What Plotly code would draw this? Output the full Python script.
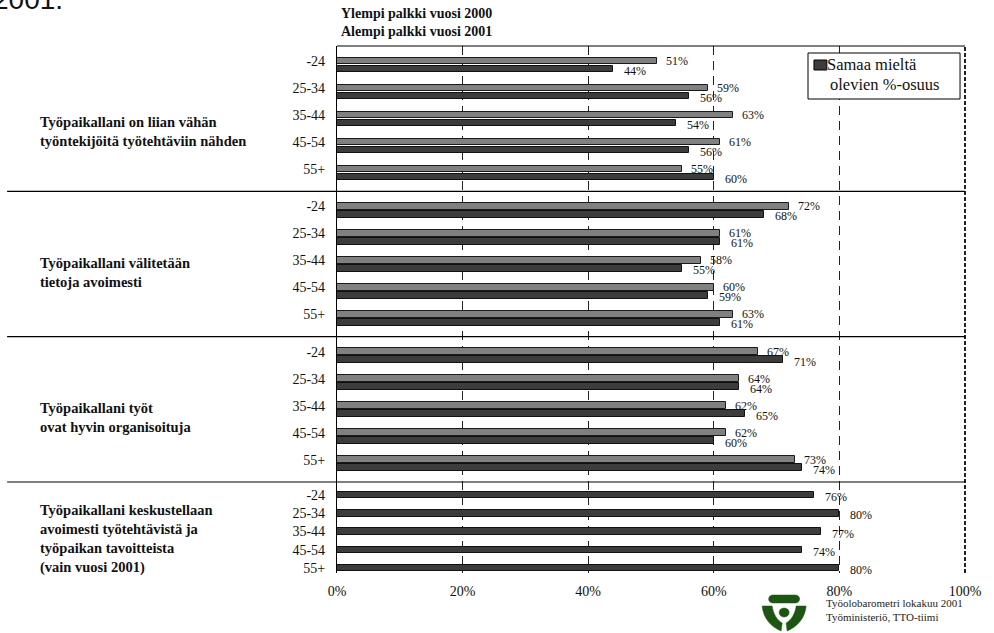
import plotly.graph_objects as go

# ---------------- data ----------------
age_groups = ["-24", "25-34", "35-44", "45-54", "55+"]
statements = [
    "Työpaikallani on liian vähän<br>työntekijöitä työtehtäviin nähden",
    "Työpaikallani välitetään<br>tietoja avoimesti",
    "Työpaikallani työt<br>ovat hyvin organisoituja",
    "Työpaikallani keskustellaan<br>avoimesti työtehtävistä ja<br>työpaikan tavoitteista<br>(vain vuosi 2001)",
]
values_2000 = [
    [51, 59, 63, 61, 55],
    [72, 61, 58, 60, 63],
    [67, 64, 62, 62, 73],
]
values_2001 = [
    [44, 56, 54, 56, 60],
    [68, 61, 55, 59, 61],
    [71, 64, 65, 60, 74],
    [76, 80, 77, 74, 80],
]
x_ticks = [0, 20, 40, 60, 80, 100]
x_tick_labels = ["0%", "20%", "40%", "60%", "80%", "100%"]
header_text = "Ylempi palkki vuosi 2000<br>Alempi palkki vuosi 2001"
legend_lines = ["Samaa mieltä", "olevien %-osuus"]
source_text = "Työolobarometri lokakuu 2001<br>Työministeriö, TTO-tiimi"
cut_title = "2001."

# ---------------- layout geometry ----------------
W, H = 994, 633
L, R, T, B = 337, 969, 46, 573
SERIF = "Liberation Serif"
C2000 = "#808080"
C2001 = "#3c3c3c"


def pxx(p):
    return (p - L) / (R - L)


def pyy(p):
    return (B - p) / (B - T)


sec_tops = [T, 191.3, 336.7, 482]
sec_bottoms = [191.3, 336.7, 482, B]

y2000, x2000, y2001, x2001 = [], [], [], []
tickvals, ticktext = [], []
for s in range(3):
    for i in range(5):
        c = sec_tops[s] + 19 + 27 * i
        y2000.append(c - 4)
        y2001.append(c + 4)
        x2000.append(values_2000[s][i])
        x2001.append(values_2001[s][i])
        tickvals.append(c - 4)
        ticktext.append(age_groups[i])
for i in range(5):
    c = sec_tops[3] + 13 + 18.25 * i
    y2001.append(c)
    x2001.append(values_2001[3][i])
    tickvals.append(c)
    ticktext.append(age_groups[i])

fig = go.Figure()
fig.add_trace(go.Bar(
    orientation="h", x=x2000, y=y2000, width=6.5,
    marker=dict(color=C2000, line=dict(color="#1a1a1a", width=1)),
    showlegend=False, hoverinfo="x",
))
fig.add_trace(go.Bar(
    orientation="h", x=x2001, y=y2001, width=6.5,
    marker=dict(color=C2001, line=dict(color="#111111", width=1)),
    showlegend=False, hoverinfo="x",
))

annotations = []
for xv, yv in zip(x2000, y2000):
    annotations.append(dict(x=xv, y=yv, xref="x", yref="y", text=f"{xv}%",
                            showarrow=False, xanchor="left", yanchor="middle",
                            xshift=7, yshift=0,
                            font=dict(family=SERIF, size=12, color="#111")))
for xv, yv in zip(x2001, y2001):
    annotations.append(dict(x=xv, y=yv, xref="x", yref="y", text=f"{xv}%",
                            showarrow=False, xanchor="left", yanchor="middle",
                            xshift=9, yshift=-2,
                            font=dict(family=SERIF, size=12, color="#111")))

# section titles
title_y = [131, 272, 417, 539]
for s, txt in enumerate(statements):
    annotations.append(dict(x=pxx(36), y=pyy(title_y[s]), xref="paper", yref="paper",
                            text=f"<b>{txt}</b>", showarrow=False, xanchor="left",
                            yanchor="middle", align="left",
                            font=dict(family=SERIF, size=14.5, color="#111")))

# header
annotations.append(dict(x=pxx(339), y=pyy(23), xref="paper", yref="paper",
                        text=f"<b>{header_text}</b>", showarrow=False,
                        xanchor="left", yanchor="middle", align="left",
                        font=dict(family=SERIF, size=14, color="#111")))
# legend text
annotations.append(dict(x=pxx(828), y=pyy(65), xref="paper", yref="paper",
                        text=legend_lines[0], showarrow=False, xanchor="left",
                        yanchor="middle", font=dict(family=SERIF, size=16.5, color="#111")))
annotations.append(dict(x=pxx(831), y=pyy(85), xref="paper", yref="paper",
                        text=legend_lines[1], showarrow=False, xanchor="left",
                        yanchor="middle", font=dict(family=SERIF, size=16.5, color="#111")))
# source
annotations.append(dict(x=pxx(827), y=pyy(610), xref="paper", yref="paper",
                        text=source_text, showarrow=False, xanchor="left",
                        yanchor="middle", align="left",
                        font=dict(family=SERIF, size=11, color="#222")))
# cut-off title at top-left
annotations.append(dict(x=pxx(63), y=pyy(17), xref="paper", yref="paper",
                        text=cut_title, showarrow=False, xanchor="right",
                        yanchor="bottom",
                        font=dict(family="Liberation Sans", size=28, color="#111")))

shapes = []
# top border
shapes.append(dict(type="line", xref="paper", yref="paper", x0=0, x1=1,
                   y0=1, y1=1, line=dict(color="black", width=1.2)))
# right border (dashed)
shapes.append(dict(type="line", xref="paper", yref="paper", x0=1, x1=1,
                   y0=0, y1=1, line=dict(color="#222", width=2, dash="4px,2px")))
# section separators
for yb in sec_bottoms[:3]:
    shapes.append(dict(type="line", xref="paper", yref="paper", x0=pxx(5), x1=1,
                       y0=pyy(yb), y1=pyy(yb), line=dict(color="black", width=1.2)))
# legend box
shapes.append(dict(type="rect", xref="paper", yref="paper", x0=pxx(811), x1=pxx(964),
                   y0=pyy(53), y1=pyy(99), line=dict(color="black", width=1),
                   fillcolor="white"))
shapes.append(dict(type="rect", xref="paper", yref="paper", x0=pxx(817), x1=pxx(830),
                   y0=pyy(60), y1=pyy(70), line=dict(color="black", width=1),
                   fillcolor=C2001))
# logo (pixel-sized paths anchored at logo centre)
GREEN = "#1d5512"
ax_, ay_ = pxx(787), pyy(612)
logo_paths = [
    "M -11,17 L 11,17 C 17,17 17,9 11,9 L -11,9 C -17,9 -17,17 -11,17 Z",
    "M -22,6 C -21,-6 -13,-15 -3,-19 L -2,-11 C -7,-8 -11,-2 -12,6 Z",
    "M 22,6 C 21,-6 13,-15 3,-19 L 2,-11 C 7,-8 11,-2 12,6 Z",
]
for p in logo_paths:
    shapes.append(dict(type="path", xref="paper", yref="paper",
                       xsizemode="pixel", ysizemode="pixel",
                       xanchor=ax_, yanchor=ay_, path=p,
                       fillcolor=GREEN, line=dict(color=GREEN, width=0.5)))
shapes.append(dict(type="circle", xref="paper", yref="paper",
                   xsizemode="pixel", ysizemode="pixel", xanchor=ax_, yanchor=ay_,
                   x0=-5, x1=5, y0=-5, y1=4, fillcolor=GREEN,
                   line=dict(color=GREEN, width=0.5)))

fig.update_layout(
    width=W, height=H, autosize=False,
    margin=dict(l=L, r=W - R, t=T, b=H - B, pad=0),
    paper_bgcolor="white", plot_bgcolor="white",
    barmode="overlay", bargap=0,
    showlegend=False,
    annotations=annotations, shapes=shapes,
    xaxis=dict(range=[0, 100], tickvals=x_ticks, ticktext=x_tick_labels,
               showgrid=True, gridcolor="#222", gridwidth=1, griddash="9px,6px",
               zeroline=False, showline=False, ticks="", ticklabelstandoff=8,
               tickfont=dict(family=SERIF, size=14, color="#111"), fixedrange=True),
    yaxis=dict(range=[B, T], tickvals=tickvals, ticktext=ticktext,
               showgrid=False, zeroline=False, showline=True, linecolor="black",
               linewidth=1.2, ticks="", ticklabelstandoff=8,
               tickfont=dict(family=SERIF, size=14, color="#111"), fixedrange=True),
)

fig.write_html(
    "out.html",
    config={"displayModeBar": False},
    post_script="document.body.style.margin='0';document.body.style.overflow='hidden';",
)
